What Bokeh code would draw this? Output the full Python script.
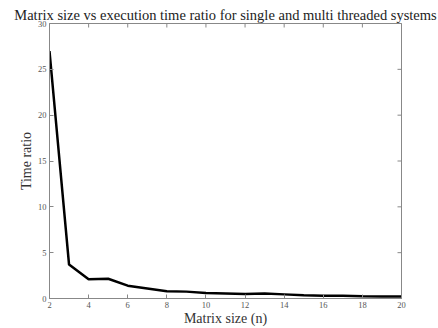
import math
from bokeh.plotting import figure
from bokeh.models import FixedTicker, Range1d
from bokeh.embed import file_html
from bokeh.resources import INLINE

matrix_size = [2, 3, 4, 5, 6, 7, 8, 9, 10, 11, 12, 13, 14, 15, 16, 17, 18, 19, 20]
time_ratio = [27.0, 3.7, 2.1, 2.15, 1.4, 1.1, 0.8, 0.75, 0.6, 0.55, 0.5, 0.55, 0.45,
              0.35, 0.3, 0.3, 0.25, 0.22, 0.22]
x_ticks = [2, 4, 6, 8, 10, 12, 14, 16, 18, 20]
y_ticks = [0, 5, 10, 15, 20, 25, 30]

FONT = "Liberation Serif"
AXC = "#888888"
LABC = "#555555"

p = figure(width=438, height=328, output_backend="svg", toolbar_location=None,
           x_range=Range1d(x_ticks[0], x_ticks[-1]), y_range=Range1d(y_ticks[0], y_ticks[-1]),
           title="Matrix size vs execution time ratio for single and multi threaded systems",
           min_border_left=49, min_border_right=37, min_border_top=23, min_border_bottom=27)

p.title.text_font = FONT
p.title.text_font_size = "14.5px"
p.title.text_font_style = "normal"
p.title.text_color = "#222222"
p.title.align = "center"
p.title.standoff = 2
p.title.offset = 0

p.xgrid.visible = False
p.ygrid.visible = False
p.outline_line_color = AXC

p.line(matrix_size, time_ratio, line_color="black", line_width=2.5)

# inward ticks on the top and right edges of the box (clipped to the frame)
p.scatter([x_ticks[-1]] * len(y_ticks), y_ticks, marker="dash", size=8,
          line_color=AXC, line_width=1)
p.scatter(x_ticks, [y_ticks[-1]] * len(x_ticks), marker="dash", size=8, angle=math.pi / 2,
          line_color=AXC, line_width=1)

for ax, ticks in ((p.xaxis[0], x_ticks), (p.yaxis[0], y_ticks)):
    ax.ticker = FixedTicker(ticks=ticks)
    ax.major_tick_in = 4
    ax.major_tick_out = 0
    ax.minor_tick_line_color = None
    ax.axis_line_color = AXC
    ax.major_tick_line_color = AXC
    ax.major_label_text_font = FONT
    ax.major_label_text_font_size = "8.5px"
    ax.major_label_text_color = LABC
    ax.axis_label_text_font = FONT
    ax.axis_label_text_font_size = "14px"
    ax.axis_label_text_font_style = "normal"
    ax.axis_label_text_color = "#333333"
    ax.major_label_standoff = 3
    ax.axis_label_standoff = 2

p.xaxis.axis_label = "Matrix size (n)"
p.xaxis.major_label_standoff = 3
p.xaxis.axis_label_standoff = 0
p.yaxis.axis_label = "Time ratio"
p.yaxis.axis_label_standoff = 1

open("out.html", "w").write(file_html(p, INLINE))
